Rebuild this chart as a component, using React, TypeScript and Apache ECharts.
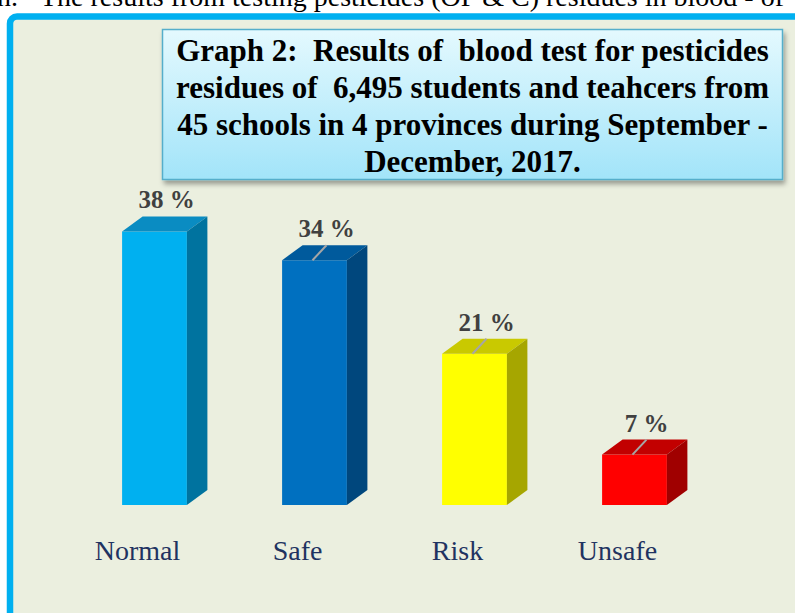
import React, { useEffect, useRef } from "react";
import * as echarts from "echarts";

const categories = ["Normal", "Safe", "Risk", "Unsafe"];
const percentValues = [38, 34, 21, 7];
const titleLines = [
  "Graph 2:  Results of  blood test for pesticides",
  "residues of  6,495 students and teahcers from",
  "45 schools in 4 provinces during September -",
  "December, 2017.",
];
const headerPrefix = "n.";
const headerText = "The results from testing pesticides (OP & C) residues in blood - of";

// face colours: [front, top, side]
const barPalette = [
  ["#00B0F0", "#0A8CC2", "#00739F"],
  ["#0070C0", "#005A9C", "#00477D"],
  ["#FFFF00", "#C9C900", "#A6A600"],
  ["#FF0000", "#C20000", "#A00000"],
];

const SERIF = '"Liberation Serif", "Times New Roman", serif';

export default function App() {
  const ref = useRef<HTMLDivElement>(null);
  useEffect(() => {
    if (!ref.current) return;
    const chart = echarts.init(ref.current, null, { renderer: "svg" });
    const dx = 20.5;
    const dy = 15;
    const option: any = {
      animation: false,
      backgroundColor: "#FFFFFF",
      grid: { left: 74.5, right: 80.5, top: 217, bottom: 108 },
      xAxis: {
        type: "category",
        data: categories,
        axisLine: { show: false },
        axisTick: { show: false },
        splitLine: { show: false },
        axisLabel: {
          color: "#1F3361",
          fontSize: 28,
          fontFamily: SERIF,
          margin: 31,
          padding: [0, 34, 0, 0],
        },
      },
      yAxis: { type: "value", min: 0, max: 40, show: false, splitLine: { show: false } },
      graphic: [
        {
          type: "text",
          left: -3,
          top: -18,
          style: { text: headerPrefix, fill: "#000", fontSize: 28, fontFamily: SERIF },
        },
        {
          type: "text",
          left: 40,
          top: -18,
          style: { text: headerText, fill: "#000", fontSize: 28, fontFamily: SERIF },
        },
        {
          type: "rect",
          shape: { x: 10, y: 16.5, width: 900, height: 700, r: 7 },
          style: { fill: "#EBEFDF", stroke: "#00B0F0", lineWidth: 6.5 },
          z: -10,
        },
        {
          type: "rect",
          shape: { x: 162.5, y: 29.5, width: 620, height: 150 },
          style: {
            fill: {
              type: "linear",
              x: 0,
              y: 0,
              x2: 0,
              y2: 1,
              colorStops: [
                { offset: 0, color: "#E4F9FE" },
                { offset: 1, color: "#A2E4F9" },
              ],
            },
            stroke: "#54AECB",
            lineWidth: 1.5,
            shadowBlur: 5,
            shadowOffsetX: 2,
            shadowOffsetY: 4,
            shadowColor: "rgba(0,0,0,0.35)",
          },
          z: 5,
        },
        {
          type: "text",
          x: 472.5,
          y: 106,
          z: 6,
          style: {
            text: titleLines.join("\n"),
            fill: "#000",
            fontSize: 31,
            fontWeight: "bold",
            fontFamily: SERIF,
            lineHeight: 37,
            align: "center",
            verticalAlign: "middle",
          },
        },
      ],
      series: [
        {
          type: "custom",
          clip: false,
          encode: { x: 0, y: 1 },
          data: percentValues.map((v, i) => [i, v]),
          renderItem: (params: any, api: any) => {
            const idx = api.value(0);
            const val = api.value(1);
            const top = api.coord([idx, val]);
            const base = api.coord([idx, 0]);
            const bw = api.size([1, 0])[0] * 0.405;
            const cx = top[0];
            const x0 = cx - bw / 2;
            const x1 = cx + bw / 2;
            const yT = top[1];
            const yB = base[1];
            const pal = barPalette[params.dataIndex % barPalette.length];
            const labelX = cx + 12;
            const baseline = yT - 26;
            const children: any[] = [
              {
                type: "rect",
                shape: { x: x0, y: yT, width: bw, height: yB - yT },
                style: { fill: pal[0] },
              },
              {
                type: "polygon",
                shape: { points: [[x0, yT], [x1, yT], [x1 + dx, yT - dy], [x0 + dx, yT - dy]] },
                style: { fill: pal[1] },
              },
              {
                type: "polygon",
                shape: { points: [[x1, yT], [x1 + dx, yT - dy], [x1 + dx, yB - dy], [x1, yB]] },
                style: { fill: pal[2] },
              },
              {
                type: "text",
                x: labelX,
                y: baseline + 7,
                style: {
                  text: val + " %",
                  fill: "#404040",
                  fontSize: 25,
                  fontWeight: "bold",
                  fontFamily: SERIF,
                  align: "center",
                  verticalAlign: "bottom",
                },
              },
            ];
            if (params.dataIndex > 0) {
              children.push({
                type: "line",
                shape: { x1: cx - 2, y1: yT, x2: labelX, y2: baseline + 11 },
                style: { stroke: "#A6A6A6", lineWidth: 2 },
              });
            }
            return { type: "group", children };
          },
        },
      ],
    };
    chart.setOption(option);
    return () => chart.dispose();
  }, []);
  return (
    <div
      ref={ref}
      style={{ position: "fixed", left: 0, top: 0, width: 795, height: 613 }}
    />
  );
}
